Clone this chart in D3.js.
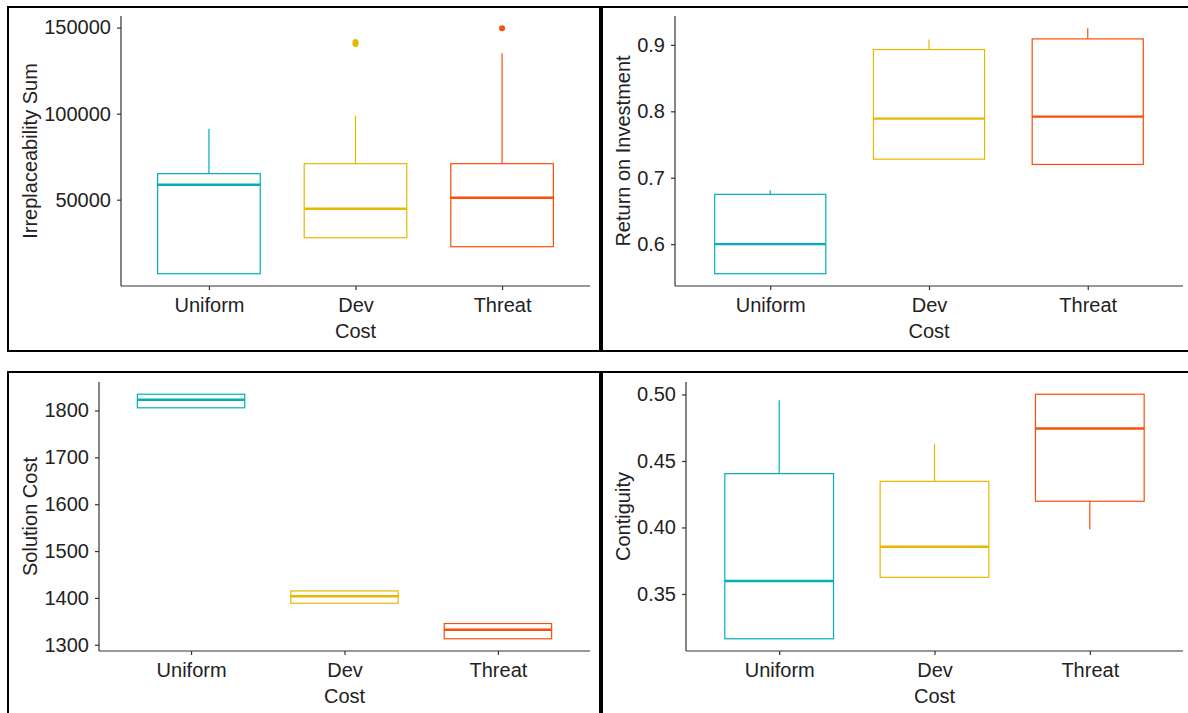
<!DOCTYPE html>
<html>
<head>
<meta charset="utf-8">
<script src="https://cdn.jsdelivr.net/npm/d3@7"></script>
<style>
  body { margin: 0; background: #fff; }
  text { font-family: "Liberation Sans", Arial, sans-serif; fill: #222; }
</style>
</head>
<body>
<svg id="chart" width="1188" height="713"></svg>
<script>
// categories and colours
var categories = ["Uniform", "Dev", "Threat"];
var palette = ["#00AFBB", "#E7B800", "#FC4E07"];

// box stats per category: [lower whisker, q1, median, q3, upper whisker]
var irreplaceability = [
    [6977, 6977, 58721, 65116, 91279],
    [27907, 27907, 44767, 70930, 98837],
    [22674, 22674, 51163, 70930, 134884]
];
var irreplaceabilityOutliers = [[], [140500, 141600], [149600]];
var irreplaceabilityTicks = [50000, 100000, 150000];

var roi = [
    [0.5555, 0.5555, 0.600, 0.675, 0.681],
    [0.728, 0.728, 0.789, 0.893, 0.908],
    [0.720, 0.720, 0.792, 0.909, 0.925]
];
var roiOutliers = [[], [], []];
var roiTicks = [0.6, 0.7, 0.8, 0.9];

var solutionCost = [
    [1805.7, 1805.7, 1822.8, 1834.7, 1834.7],
    [1388.7, 1388.7, 1403.6, 1414.9, 1414.9],
    [1312.8, 1312.8, 1331.9, 1345.3, 1345.3]
];
var solutionCostOutliers = [[], [], []];
var solutionCostTicks = [1300, 1400, 1500, 1600, 1700, 1800];

var contiguity = [
    [0.3163, 0.3163, 0.3597, 0.4405, 0.4957],
    [0.3625, 0.3625, 0.3855, 0.4347, 0.463],
    [0.3987, 0.4197, 0.4744, 0.5002, 0.5002]
];
var contiguityOutliers = [[], [], []];
var contiguityTicks = [0.35, 0.40, 0.45, 0.50];

var svg = d3.select("#chart");
var fontSize = "20px";

var panels = [
    { frame: [8, 7, 600, 351], plot: [121, 590, 16, 286], title: "Irreplaceability Sum", titleX: 30,
      stats: irreplaceability, outliers: irreplaceabilityOutliers, ticks: irreplaceabilityTicks, fmt: d3.format("d") },
    { frame: [602, 7, 1192, 351], plot: [675, 1183, 16, 286], title: "Return on Investment", titleX: 623,
      stats: roi, outliers: roiOutliers, ticks: roiTicks, fmt: d3.format(".1f") },
    { frame: [8, 372, 600, 717], plot: [99, 590, 382, 651], title: "Solution Cost", titleX: 30,
      stats: solutionCost, outliers: solutionCostOutliers, ticks: solutionCostTicks, fmt: d3.format("d") },
    { frame: [602, 372, 1192, 717], plot: [686, 1183, 382, 651], title: "Contiguity", titleX: 623,
      stats: contiguity, outliers: contiguityOutliers, ticks: contiguityTicks, fmt: d3.format(".2f") }
];

panels.forEach(drawPanel);

function drawPanel(p) {
    var f = p.frame, r = p.plot;
    svg.append("rect")
        .attr("x", f[0]).attr("y", f[1])
        .attr("width", f[2] - f[0]).attr("height", f[3] - f[1])
        .attr("fill", "none")
        .attr("stroke", "#000")
        .attr("stroke-width", 2);

    // ggplot style 5% expansion of the data range
    var all = [];
    p.stats.forEach(function(s, i) { all = all.concat(s, p.outliers[i]); });
    var lo = d3.min(all), hi = d3.max(all), pad = (hi - lo) * 0.05;

    var x = d3.scalePoint().domain(categories).range([r[0], r[1]]).padding(0.6);
    var y = d3.scaleLinear().domain([lo - pad, hi + pad]).range([r[3], r[2]]);
    var bw = x.step() * 0.7;

    var g = svg.append("g");
    p.stats.forEach(function(s, i) {
        var cx = x(categories[i]), col = palette[i];
        var box = g.append("g").attr("stroke", col).attr("fill", "none");
        box.append("line")
            .attr("x1", cx).attr("x2", cx)
            .attr("y1", y(s[3])).attr("y2", y(s[4]))
            .attr("stroke-width", 1.2);
        box.append("line")
            .attr("x1", cx).attr("x2", cx)
            .attr("y1", y(s[0])).attr("y2", y(s[1]))
            .attr("stroke-width", 1.2);
        box.append("rect")
            .attr("x", cx - bw / 2).attr("width", bw)
            .attr("y", y(s[3])).attr("height", y(s[1]) - y(s[3]))
            .attr("stroke-width", 1.2);
        box.append("line")
            .attr("x1", cx - bw / 2).attr("x2", cx + bw / 2)
            .attr("y1", y(s[2])).attr("y2", y(s[2]))
            .attr("stroke-width", 2.4);
        g.selectAll(null)
            .data(p.outliers[i])
            .enter().append("circle")
            .attr("cx", cx).attr("cy", function(d) { return y(d); })
            .attr("r", 3)
            .attr("fill", col);
    });

    var yAxis = d3.axisLeft(y).tickValues(p.ticks).tickFormat(p.fmt)
        .tickSizeOuter(0).tickSize(4).tickPadding(6);
    var xAxis = d3.axisBottom(x).tickSizeOuter(0).tickSize(4).tickPadding(8);

    var ya = svg.append("g").attr("transform", "translate(" + r[0] + ",0)").call(yAxis);
    var xa = svg.append("g").attr("transform", "translate(0," + r[3] + ")").call(xAxis);
    [ya, xa].forEach(function(a) {
        a.select(".domain").attr("stroke", "#333").attr("stroke-width", 1.2);
        a.selectAll(".tick line").attr("stroke", "#333").attr("stroke-width", 1.2);
        a.selectAll(".tick text").attr("fill", "#222").style("font-size", fontSize)
            .style("font-family", '"Liberation Sans", Arial, sans-serif');
    });
    ya.select(".domain").attr("d", "M0," + r[3] + "V" + r[2]);
    xa.select(".domain").attr("d", "M" + r[0] + ",0H" + r[1]);

    svg.append("text")
        .attr("x", (r[0] + r[1]) / 2).attr("y", r[3] + 52)
        .attr("text-anchor", "middle")
        .style("font-size", fontSize)
        .text("Cost");
    svg.append("text")
        .attr("transform", "translate(" + p.titleX + "," + (r[2] + r[3]) / 2 + ") rotate(-90)")
        .attr("text-anchor", "middle")
        .attr("dy", "0.35em")
        .style("font-size", fontSize)
        .text(p.title);
}
</script>
</body>
</html>
